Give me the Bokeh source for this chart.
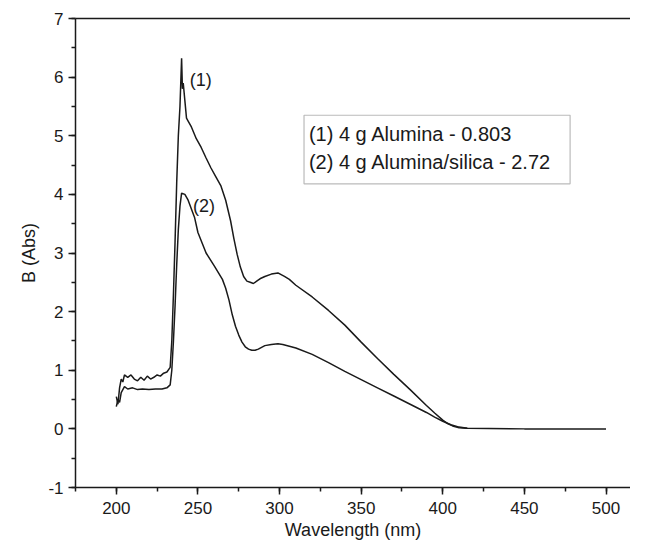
from bokeh.plotting import figure
from bokeh.models import LinearAxis, SingleIntervalTicker, FixedTicker, Label, BoxAnnotation, PrintfTickFormatter
from bokeh.embed import file_html
from bokeh.resources import INLINE

# Curve (1): 4 g Alumina - 0.803
wl1 = [200, 201, 202, 203, 204, 205, 207, 209, 211, 213, 215, 217, 219, 221, 223, 225, 227, 229, 231, 233,
       234, 235, 236, 237, 238, 239, 240, 240.5, 241, 242, 243, 244, 246, 249, 252, 255, 258, 261, 264, 267,
       270, 272, 274, 276, 278, 280, 282, 284, 286, 288, 291, 295, 299, 303, 306, 310, 320, 330, 340, 350,
       360, 370, 380, 390, 395, 400, 403, 406, 410, 415, 450, 500]
ab1 = [0.55, 0.42, 0.70, 0.85, 0.80, 0.92, 0.88, 0.92, 0.85, 0.82, 0.88, 0.83, 0.90, 0.85, 0.88, 0.92, 0.90, 0.95, 0.97, 1.05,
       1.5, 2.3, 3.2, 4.2, 5.0, 5.5, 6.32, 5.8, 5.9, 5.6, 5.3, 5.25, 5.15, 4.95, 4.8, 4.62, 4.45, 4.3, 4.15, 3.9,
       3.55, 3.25, 2.98, 2.76, 2.6, 2.52, 2.5, 2.48, 2.52, 2.56, 2.6, 2.64, 2.66, 2.6, 2.55, 2.45, 2.25, 2.02, 1.77, 1.48,
       1.2, 0.93, 0.67, 0.40, 0.27, 0.15, 0.09, 0.05, 0.02, 0.01, 0.0, 0.0]

# Curve (2): 4 g Alumina/silica - 2.72
wl2 = [200, 201, 202, 203, 205, 207, 210, 213, 216, 220, 224, 228, 231, 233, 234, 235, 236, 237, 238, 239,
       240, 242, 244, 246, 248, 250, 255, 260, 265, 267, 269, 271, 273, 275, 277, 279, 281, 283, 285, 287,
       291, 295, 299, 302, 310, 320, 330, 340, 350, 360, 370, 380, 390, 395, 400, 405, 410, 415]
ab2 = [0.38, 0.50, 0.45, 0.62, 0.72, 0.68, 0.70, 0.67, 0.68, 0.67, 0.68, 0.68, 0.70, 0.75, 1.0, 1.5, 2.1, 2.8, 3.4, 3.8,
       4.02, 4.0, 3.9, 3.75, 3.6, 3.35, 3.0, 2.78, 2.55, 2.4, 2.2, 1.95, 1.75, 1.6, 1.48, 1.4, 1.36, 1.34, 1.34, 1.36,
       1.42, 1.44, 1.45, 1.44, 1.38, 1.27, 1.13, 0.98, 0.84, 0.70, 0.56, 0.42, 0.28, 0.20, 0.13, 0.07, 0.03, 0.01]

legend_lines = ["(1) 4 g Alumina - 0.803", "(2) 4 g Alumina/silica - 2.72"]

FONT = "Liberation Sans"
INK = "#1a1a1a"

p = figure(width=630, height=543, x_range=(175, 515), y_range=(-1, 7),
           output_backend="svg", toolbar_location=None,
           min_border_left=75, min_border_right=0, min_border_top=18, min_border_bottom=56)
p.outline_line_color = None
p.grid.visible = False
p.background_fill_color = "white"
p.border_fill_color = "white"

p.xaxis.ticker = SingleIntervalTicker(interval=50, num_minor_ticks=2)
p.yaxis.ticker = SingleIntervalTicker(interval=1, num_minor_ticks=2)
p.yaxis.formatter = PrintfTickFormatter(format="%d")
p.xaxis.formatter = PrintfTickFormatter(format="%d")
for ax in (p.xaxis, p.yaxis):
    ax.axis_line_width = 1.5
    ax.axis_line_color = INK
    ax.major_tick_line_color = INK
    ax.minor_tick_line_color = INK
    ax.major_tick_line_width = 1.5
    ax.minor_tick_line_width = 1.5
    ax.major_tick_in = 0
    ax.minor_tick_in = 0
    ax.major_tick_out = 7
    ax.minor_tick_out = 4
    ax.major_label_text_font = FONT
    ax.major_label_text_font_size = "17px"
    ax.major_label_text_color = INK
    ax.axis_label_text_font = FONT
    ax.axis_label_text_font_size = "18px"
    ax.axis_label_text_font_style = "normal"
    ax.axis_label_text_color = INK
p.xaxis.axis_label = "Wavelength (nm)"
p.yaxis.axis_label = "B (Abs)"
p.xaxis.major_label_standoff = 7
p.xaxis.axis_label_standoff = 3
p.yaxis.axis_label_standoff = 6

top = LinearAxis(ticker=FixedTicker(ticks=[]), axis_line_width=1.5, axis_line_color=INK,
                 major_tick_line_color=None, minor_tick_line_color=None)
p.add_layout(top, "above")

p.line(wl1, ab1, line_color=INK, line_width=1.5)
p.line(wl2, ab2, line_color=INK, line_width=1.5)

p.add_layout(Label(x=245, y=5.95, text="(1)", text_font=FONT, text_font_size="18px",
                   text_color=INK, text_baseline="middle"))
p.add_layout(Label(x=247, y=3.8, text="(2)", text_font=FONT, text_font_size="18px",
                   text_color=INK, text_baseline="middle"))

p.add_layout(BoxAnnotation(left=315, right=478, top=5.35, bottom=4.18,
                           fill_color="white", fill_alpha=1.0,
                           line_color=INK, line_width=1.2))
p.add_layout(Label(x=318, y=5.03, text=legend_lines[0], text_font=FONT, text_font_size="20px",
                   text_color=INK, text_baseline="middle"))
p.add_layout(Label(x=318, y=4.55, text=legend_lines[1], text_font=FONT, text_font_size="20px",
                   text_color=INK, text_baseline="middle"))

open("out.html", "w").write(file_html(p, INLINE))
